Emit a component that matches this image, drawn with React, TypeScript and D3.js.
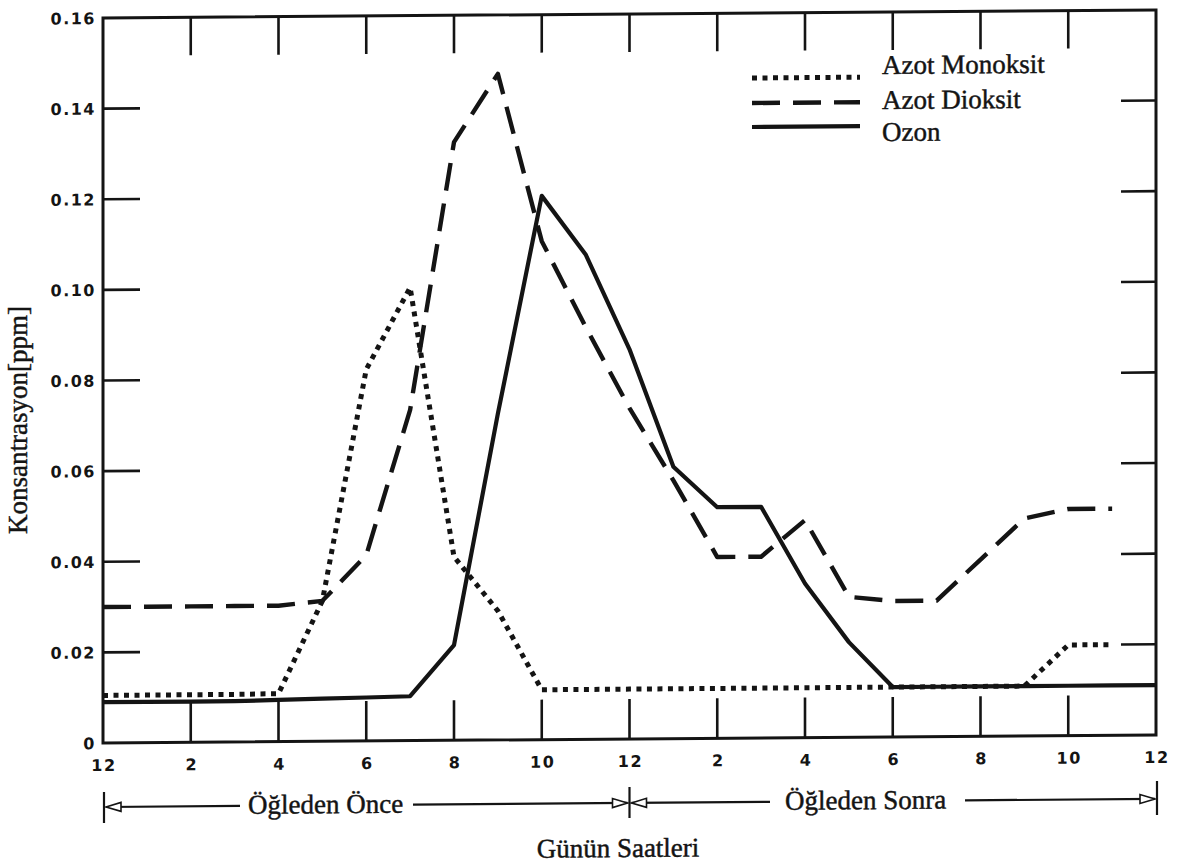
import React from "react";
import * as d3 from "d3";

// Hour of day (0 = midnight, 12 = noon, 24 = midnight)
const hours = [0, 1, 2, 3, 4, 5, 6, 7, 8, 9, 10, 11, 12, 13, 14, 15, 16, 17, 18, 19, 20, 21, 22, 23, 24];

// Concentrations in ppm, one value per hour
const azotMonoksit = [
  0.0105, 0.0105, 0.0105, 0.0105, 0.0106, 0.031, 0.082, 0.1, 0.0405, 0.0285, 0.011, 0.011,
  0.011, 0.011, 0.011, 0.011, 0.011, 0.011, 0.011, 0.011, 0.011, 0.011, 0.02, 0.02,
];
const azotDioksit = [
  0.03, 0.03, 0.03, 0.03, 0.03, 0.031, 0.041, 0.073, 0.132, 0.147, 0.11, 0.091,
  0.073, 0.057, 0.04, 0.04, 0.048, 0.031, 0.03, 0.03, 0.039, 0.048, 0.05, 0.05,
];
const ozon = [
  0.009, 0.009, 0.009, 0.009, 0.0092, 0.0094, 0.0096, 0.0098, 0.021, 0.072, 0.12, 0.107,
  0.086, 0.06, 0.051, 0.051, 0.034, 0.021, 0.011, 0.011, 0.011, 0.011, 0.011, 0.011, 0.011,
];

const hourTicks = [0, 2, 4, 6, 8, 10, 12, 14, 16, 18, 20, 22, 24];
const hourLabels = ["12", "2", "4", "6", "8", "10", "12", "2", "4", "6", "8", "10", "12"];
const concTicks = [0, 0.02, 0.04, 0.06, 0.08, 0.1, 0.12, 0.14, 0.16];
const concLabels = ["0", "0.02", "0.04", "0.06", "0.08", "0.10", "0.12", "0.14", "0.16"];

const legendNames = ["Azot Monoksit", "Azot Dioksit", "Ozon"];

const W = 1183;
const H = 866;
const INK = "#141414";
const SERIF = "'Liberation Serif', 'DejaVu Serif', serif";
const SANS = "'DejaVu Sans', sans-serif";

const DOT = "5 5.5";
const DASH = "28 13";

export default function App() {
  const x = d3.scaleLinear().domain([0, 24]).range([103, 1156]);
  const y = d3.scaleLinear().domain([0, 0.16]).range([743, 18]);

  const line = d3
    .line<[number, number]>()
    .x((d) => x(d[0]))
    .y((d) => y(d[1]));

  const seriesPath = (vals: number[]) =>
    line(vals.map((v, i) => [hours[i], v] as [number, number])) || "";

  const x0 = x(0);
  const x1 = x(24);
  const yTop = y(0.16);
  const yBot = y(0);
  const innerTicks = hourTicks.slice(1, -1);
  const innerConc = concTicks.slice(1, -1);

  // bottom "before noon / afternoon" row
  const rowY = 807;
  const xNoon = x(12);

  const arrowLeft = (tip: number) =>
    `${tip},${rowY} ${tip + 15},${rowY - 4.5} ${tip + 15},${rowY + 4.5}`;
  const arrowRight = (tip: number) =>
    `${tip},${rowY} ${tip - 15},${rowY - 4.5} ${tip - 15},${rowY + 4.5}`;

  const legendRows = [
    { name: legendNames[0], dash: DOT, width: 5, ly: 83, ty: 80 },
    { name: legendNames[1], dash: DASH, width: 4.4, ly: 108, ty: 115 },
    { name: legendNames[2], dash: undefined, width: 4.2, ly: 132, ty: 147 },
  ];

  const serifText = {
    fontFamily: SERIF,
    fontSize: 27,
    fill: INK,
    stroke: INK,
    strokeWidth: 0.45,
  };

  return (
    <svg
      width={W}
      height={H}
      viewBox={`0 0 ${W} ${H}`}
      style={{ position: "absolute", left: 0, top: 0, background: "#fff" }}
    >
      <rect x={0} y={0} width={W} height={H} fill="#fff" />
      <g transform={`translate(${x0},0) skewY(-0.44) translate(${-x0},0)`}>
        {/* frame */}
        <path
          d={`M${x0},${yTop} L${x1},${yTop} L${x1},${yBot} L${x0},${yBot} Z`}
          fill="none"
          stroke={INK}
          strokeWidth={3}
        />
        {/* top and bottom ticks */}
        {innerTicks.map((h) => (
          <g key={`xt${h}`} stroke={INK} strokeWidth={2.6}>
            <line x1={x(h)} x2={x(h)} y1={yTop} y2={yTop + 38} />
            <line x1={x(h)} x2={x(h)} y1={yBot} y2={yBot - 40} />
          </g>
        ))}
        {/* left and right ticks */}
        {innerConc.map((v) => (
          <g key={`yt${v}`} stroke={INK} strokeWidth={2.6}>
            <line x1={x0} x2={x0 + 37} y1={y(v)} y2={y(v)} />
            <line x1={x1} x2={x1 - 35} y1={y(v)} y2={y(v)} />
          </g>
        ))}
        {/* y tick labels */}
        {concTicks.map((v, i) => (
          <text
            key={`yl${v}`}
            x={96}
            y={y(v) + 6}
            textAnchor="end"
            fontFamily={SANS}
            fontWeight="bold"
            fontSize={16}
            letterSpacing={1.5}
            fill={INK}
          >
            {concLabels[i]}
          </text>
        ))}
        {/* x tick labels */}
        {hourTicks.map((h, i) => (
          <text
            key={`xl${h}`}
            x={x(h) + 1}
            y={771}
            textAnchor="middle"
            fontFamily={SANS}
            fontWeight="bold"
            fontSize={16}
            letterSpacing={1.5}
            fill={INK}
          >
            {hourLabels[i]}
          </text>
        ))}

        {/* series */}
        <path
          d={seriesPath(azotMonoksit)}
          fill="none"
          stroke={INK}
          strokeWidth={5}
          strokeDasharray={DOT}
          strokeLinejoin="round"
        />
        <path
          d={seriesPath(azotDioksit)}
          fill="none"
          stroke={INK}
          strokeWidth={4.4}
          strokeDasharray={DASH}
          strokeLinejoin="round"
        />
        <path
          d={seriesPath(ozon)}
          fill="none"
          stroke={INK}
          strokeWidth={4.2}
          strokeLinejoin="round"
        />

        {/* legend */}
        {legendRows.map((r) => (
          <g key={r.name}>
            <line
              x1={752}
              x2={860}
              y1={r.ly}
              y2={r.ly}
              stroke={INK}
              strokeWidth={r.width}
              strokeDasharray={r.dash}
            />
            <text x={882} y={r.ty} {...serifText}>
              {r.name}
            </text>
          </g>
        ))}

        {/* period annotation row */}
        <g stroke={INK} strokeWidth={2.2} fill="none">
          <line x1={x0 + 1} x2={x0 + 1} y1={rowY - 15} y2={rowY + 16} />
          <line x1={xNoon} x2={xNoon} y1={rowY - 16} y2={rowY + 15} />
          <line x1={x1 + 1} x2={x1 + 1} y1={rowY - 18} y2={rowY + 16} />
          <line x1={x0 + 3} x2={240} y1={rowY} y2={rowY} />
          <line x1={413} x2={xNoon - 2} y1={rowY} y2={rowY} />
          <line x1={xNoon + 2} x2={770} y1={rowY} y2={rowY} />
          <line x1={965} x2={x1 - 1} y1={rowY} y2={rowY} />
        </g>
        <g stroke={INK} strokeWidth={1.6} fill="#fff">
          <polygon points={arrowLeft(x0 + 3)} />
          <polygon points={arrowRight(xNoon - 2)} />
          <polygon points={arrowLeft(xNoon + 2)} />
          <polygon points={arrowRight(x1 - 1)} />
        </g>
        <text x={248} y={815} {...serifText}>
          Öğleden Önce
        </text>
        <text x={785} y={815} {...serifText}>
          Öğleden Sonra
        </text>
        <text x={618} y={861} textAnchor="middle" {...serifText}>
          Günün Saatleri
        </text>
      </g>
      <text transform="translate(27,420) rotate(-90)" textAnchor="middle" {...serifText}>
        Konsantrasyon[ppm]
      </text>
    </svg>
  );
}
